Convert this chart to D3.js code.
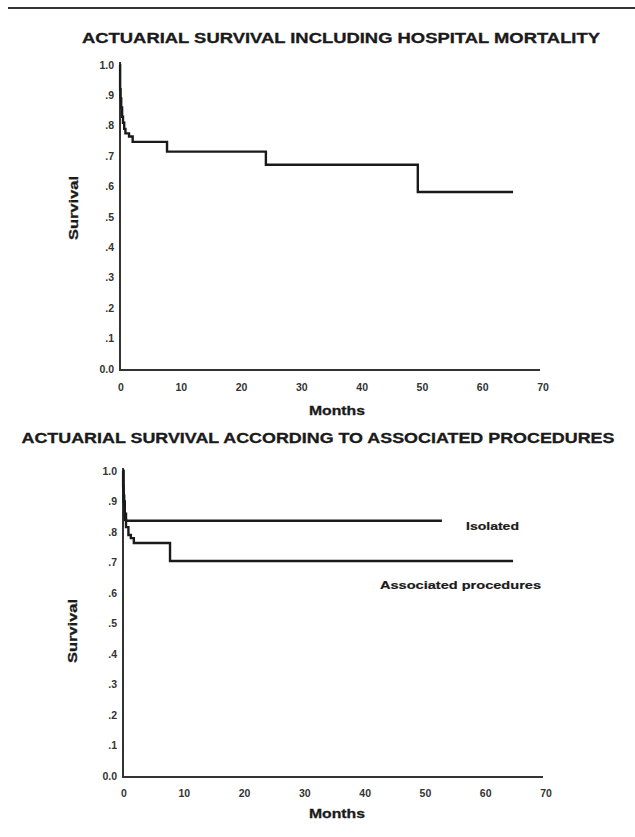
<!DOCTYPE html>
<html>
<head>
<meta charset="utf-8">
<script src="https://cdn.jsdelivr.net/npm/d3@7"></script>
<style>
  html, body { margin: 0; padding: 0; background: #fff; }
  svg { display: block; font-family: "Liberation Sans", Arial, sans-serif; }
</style>
</head>
<body>
<svg id="chart" width="635" height="837"></svg>
<script>
// ---- Data ----
const xTicks = [0, 10, 20, 30, 40, 50, 60, 70];
const yTicks = [0, 0.1, 0.2, 0.3, 0.4, 0.5, 0.6, 0.7, 0.8, 0.9, 1.0];
const yTickLabels = ["0.0", ".1", ".2", ".3", ".4", ".5", ".6", ".7", ".8", ".9", "1.0"];

// Chart 1: overall survival including hospital mortality
const overallMonths   = [0, 0.02, 0.1, 0.2, 0.35, 0.5, 0.7, 0.9, 1.5, 2.1, 7.8, 24.2, 49.4, 65.2];
const overallSurvival = [1.0, 0.92, 0.89, 0.86, 0.83, 0.81, 0.79, 0.775, 0.765, 0.747, 0.715, 0.672, 0.582, 0.582];

// Chart 2: by associated procedures
const isolatedMonths   = [0, 0.02, 0.1, 0.2, 0.3, 0.5, 52.9];
const isolatedSurvival = [1.0, 0.95, 0.92, 0.89, 0.86, 0.837, 0.837];
const associatedMonths   = [0, 0.1, 0.3, 0.5, 0.9, 1.3, 1.8, 7.8, 64.7];
const associatedSurvival = [1.0, 0.9, 0.84, 0.816, 0.79, 0.78, 0.764, 0.705, 0.705];

const titles = [
  "ACTUARIAL SURVIVAL INCLUDING HOSPITAL MORTALITY",
  "ACTUARIAL SURVIVAL ACCORDING TO ASSOCIATED PROCEDURES"
];
const seriesLabels = ["Isolated", "Associated procedures"];

// ---- Drawing ----
const svg = d3.select("#chart");
const ink = "#1a1a1a";

// top rule
svg.append("line").attr("x1", 8).attr("x2", 635).attr("y1", 8).attr("y2", 8)
  .attr("stroke", "#333").attr("stroke-width", 2);

function zip(ms, ss) { return ms.map((m, i) => ({ m: m, s: ss[i] })); }

function drawPanel(cfg) {
  const g = svg.append("g");
  const x = d3.scaleLinear().domain([0, 70]).range([cfg.x0, cfg.x1]);
  const y = d3.scaleLinear().domain([0, 1]).range([cfg.y0, cfg.y1]);

  // title
  g.append("text").attr("x", cfg.titleX).attr("y", cfg.titleY)
    .attr("text-anchor", "middle").attr("font-weight", "bold").attr("font-size", 14)
    .attr("textLength", cfg.titleLen).attr("lengthAdjust", "spacingAndGlyphs")
    .attr("fill", ink).attr("stroke", ink).attr("stroke-width", 0.3)
    .text(cfg.title);

  // axes lines
  g.append("line").attr("x1", x(0)).attr("x2", x(0))
    .attr("y1", y(1) - 3).attr("y2", y(0) + 1)
    .attr("stroke", "#333").attr("stroke-width", 2);
  g.append("line").attr("x1", x(0) - 1).attr("x2", cfg.axisEnd)
    .attr("y1", y(0) + 1).attr("y2", y(0) + 1)
    .attr("stroke", "#333").attr("stroke-width", 2);

  // y tick labels
  g.selectAll(".ytl").data(yTicks).enter().append("text")
    .attr("x", x(0) - 6).attr("y", d => y(d)).attr("dy", "0.35em")
    .attr("text-anchor", "end").attr("font-weight", "bold").attr("font-size", 10.5)
    .attr("fill", "#333")
    .text((d, i) => yTickLabels[i]);

  // x tick labels
  g.selectAll(".xtl").data(xTicks).enter().append("text")
    .attr("x", d => x(d) + 1).attr("y", cfg.xLabelY).attr("dy", "0.35em")
    .attr("text-anchor", "middle").attr("font-weight", "bold").attr("font-size", 10.5)
    .attr("fill", "#333")
    .text(d => d);

  // axis titles
  g.append("text").attr("x", cfg.monthsX).attr("y", cfg.monthsY).attr("dy", "0.35em")
    .attr("text-anchor", "middle").attr("font-weight", "bold").attr("font-size", 13)
    .attr("textLength", 56).attr("lengthAdjust", "spacingAndGlyphs")
    .attr("fill", ink).attr("stroke", ink).attr("stroke-width", 0.3).text("Months");
  g.append("text")
    .attr("transform", `translate(${cfg.survX},${cfg.survY}) rotate(-90)`)
    .attr("dy", "0.35em")
    .attr("text-anchor", "middle").attr("font-weight", "bold").attr("font-size", 13)
    .attr("textLength", 64).attr("lengthAdjust", "spacingAndGlyphs")
    .attr("fill", ink).attr("stroke", ink).attr("stroke-width", 0.3).text("Survival");

  const line = d3.line().x(d => x(d.m)).y(d => y(d.s)).curve(d3.curveStepAfter);
  cfg.series.forEach(sr => {
    g.append("path").datum(zip(sr.months, sr.surv))
      .attr("d", line).attr("fill", "none")
      .attr("stroke", ink).attr("stroke-width", 2.4).attr("stroke-linejoin", "miter");
  });

  (cfg.labels || []).forEach(lb => {
    g.append("text").attr("x", lb.x).attr("y", lb.y).attr("dy", "0.35em")
      .attr("font-weight", "bold").attr("font-size", 11.5)
      .attr("textLength", lb.len).attr("lengthAdjust", "spacingAndGlyphs")
      .attr("fill", ink).attr("stroke", ink).attr("stroke-width", 0.2).text(lb.text);
  });
}

drawPanel({
  title: titles[0], titleX: 341, titleY: 43, titleLen: 518,
  x0: 120, x1: 542, y0: 369, y1: 65, axisEnd: 540,
  xLabelY: 387, monthsX: 337, monthsY: 410, survX: 73, survY: 208,
  series: [{ months: overallMonths, surv: overallSurvival }]
});

drawPanel({
  title: titles[1], titleX: 318, titleY: 443, titleLen: 593,
  x0: 123, x1: 545, y0: 776, y1: 471, axisEnd: 543,
  xLabelY: 793, monthsX: 337, monthsY: 813, survX: 72, survY: 631,
  series: [
    { months: isolatedMonths, surv: isolatedSurvival },
    { months: associatedMonths, surv: associatedSurvival }
  ],
  labels: [
    { text: seriesLabels[0], x: 466, y: 526, len: 53 },
    { text: seriesLabels[1], x: 380, y: 585, len: 161 }
  ]
});
</script>
</body>
</html>
